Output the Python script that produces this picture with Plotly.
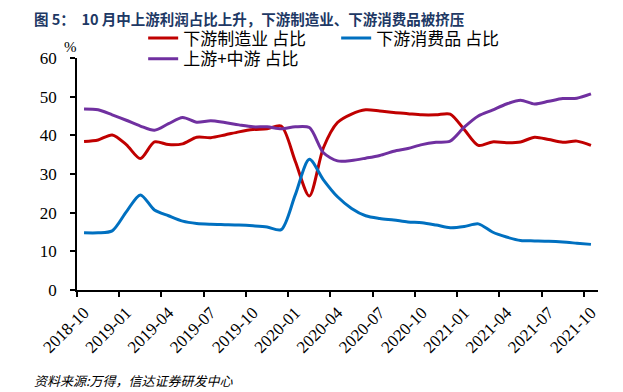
import plotly.graph_objects as go

months = ["2018-10", "2018-11", "2018-12", "2019-01", "2019-02", "2019-03", "2019-04", "2019-05",
          "2019-06", "2019-07", "2019-08", "2019-09", "2019-10", "2019-11", "2019-12", "2020-01",
          "2020-02", "2020-03", "2020-04", "2020-05", "2020-06", "2020-07", "2020-08", "2020-09",
          "2020-10", "2020-11", "2020-12", "2021-01", "2021-02", "2021-03", "2021-04", "2021-05",
          "2021-06", "2021-07", "2021-08", "2021-09", "2021-10"]

downstream_mfg = [38.4, 38.8, 40.1, 37.6, 34.0, 38.3, 37.6, 37.8, 39.5, 39.4, 40.1, 40.9,
                  41.5, 41.7, 42.4, 33.3, 24.3, 36.8, 43.3, 45.5, 46.6, 46.3, 45.9, 45.6,
                  45.3, 45.3, 45.5, 41.5, 37.4, 38.3, 38.1, 38.3, 39.5, 38.9, 38.2, 38.5, 37.4]

downstream_cons = [14.8, 14.8, 15.3, 20.2, 24.6, 20.7, 19.2, 17.8, 17.2, 17.0, 16.9, 16.8,
                   16.6, 16.3, 15.6, 24.6, 33.8, 28.5, 24.1, 21.1, 19.2, 18.5, 18.1, 17.6,
                   17.4, 16.8, 16.1, 16.4, 17.1, 15.0, 13.7, 12.8, 12.7, 12.6, 12.4, 12.1, 11.8]

upstream_mid = [46.8, 46.6, 45.3, 43.9, 42.4, 41.3, 43.0, 44.6, 43.4, 43.8, 43.3, 42.7,
                42.2, 42.2, 41.7, 42.2, 42.0, 35.5, 33.4, 33.5, 34.1, 34.8, 35.9, 36.6,
                37.6, 38.2, 38.5, 42.1, 45.0, 46.5, 48.1, 49.1, 48.1, 48.8, 49.5, 49.6, 50.7]

y_ticks = [0, 10, 20, 30, 40, 50, 60]

series = [
    ("下游制造业 占比", downstream_mfg, "#C00000", "legend"),
    ("下游消费品 占比", downstream_cons, "#0070C0", "legend"),
    ("上游+中游 占比", upstream_mid, "#7030A0", "legend2"),
]

idx = list(range(len(months)))
label_idx = idx[::3]
label_text = [months[i] for i in label_idx]
tick_bounds = [i - 0.5 for i in label_idx]

SERIF = "Liberation Serif, Times New Roman, serif"
CJK = "Noto Sans CJK SC, sans-serif"

fig = go.Figure()
for name, vals, color, lg in series:
    fig.add_trace(go.Scatter(
        x=idx, y=vals, name=name, mode="lines", legend=lg,
        line=dict(color=color, width=3, shape="spline", smoothing=0.8),
        hoverinfo="skip",
    ))
# empty trace so the label axis (x2) gets a subplot
fig.add_trace(go.Scatter(x=[], y=[], xaxis="x2", yaxis="y", showlegend=False, hoverinfo="skip"))

xr = [-0.5, len(months) - 0.5]

legend_common = dict(
    orientation="h", x=0.127, xanchor="left", yanchor="top",
    font=dict(family=CJK, size=17, color="#000000"),
    entrywidth=148, entrywidthmode="pixels",
    bgcolor="rgba(0,0,0,0)", borderwidth=0, tracegroupgap=0,
)

fig.update_layout(
    width=615, height=384,
    margin=dict(l=69, r=25, t=50, b=102, autoexpand=False),
    paper_bgcolor="white", plot_bgcolor="white",
    showlegend=True,
    legend=dict(legend_common, y=1.162),
    legend2=dict(legend_common, y=1.072),
    xaxis=dict(
        range=xr, tickmode="array", tickvals=tick_bounds, showticklabels=False,
        ticks="outside", ticklen=5, tickwidth=1.5, tickcolor="#000000",
        showline=True, linecolor="#000000", linewidth=1.5,
        showgrid=False, zeroline=False,
    ),
    xaxis2=dict(
        overlaying="x", anchor="y", side="bottom", range=xr,
        tickmode="array", tickvals=label_idx, ticktext=label_text,
        tickangle=-45, ticks="outside", ticklen=5, tickcolor="rgba(0,0,0,0)",
        tickfont=dict(family=SERIF, size=17, color="#000000"),
        showline=False, showgrid=False, zeroline=False,
    ),
    yaxis=dict(
        range=[0, 60], tickmode="array", tickvals=y_ticks,
        ticks="outside", ticklen=5, tickwidth=1.5, tickcolor="#000000",
        showline=True, linecolor="#000000", linewidth=1.5,
        showgrid=False, zeroline=False, ticklabelstandoff=10,
        tickfont=dict(family=SERIF, size=17, color="#000000"),
    ),
)

fig.add_annotation(
    text="<b>图 5：  10 月中上游利润占比上升，下游制造业、下游消费品被挤压</b>",
    xref="paper", yref="paper", x=-0.086, y=1.172, xanchor="left", yanchor="middle",
    showarrow=False, font=dict(family=CJK, size=14.5, color="#203864"),
)
fig.add_annotation(
    text="%", xref="paper", yref="paper", x=-0.012, y=1.047, xanchor="center", yanchor="middle",
    showarrow=False, font=dict(family=SERIF, size=15, color="#000000"),
)
fig.add_annotation(
    text="<i>资料来源:万得，信达证券研发中心</i>",
    xref="paper", yref="paper", x=-0.086, y=-0.392, xanchor="left", yanchor="middle",
    showarrow=False, font=dict(family=CJK, size=13, color="#000000"),
)

fig.write_html("out.html")
